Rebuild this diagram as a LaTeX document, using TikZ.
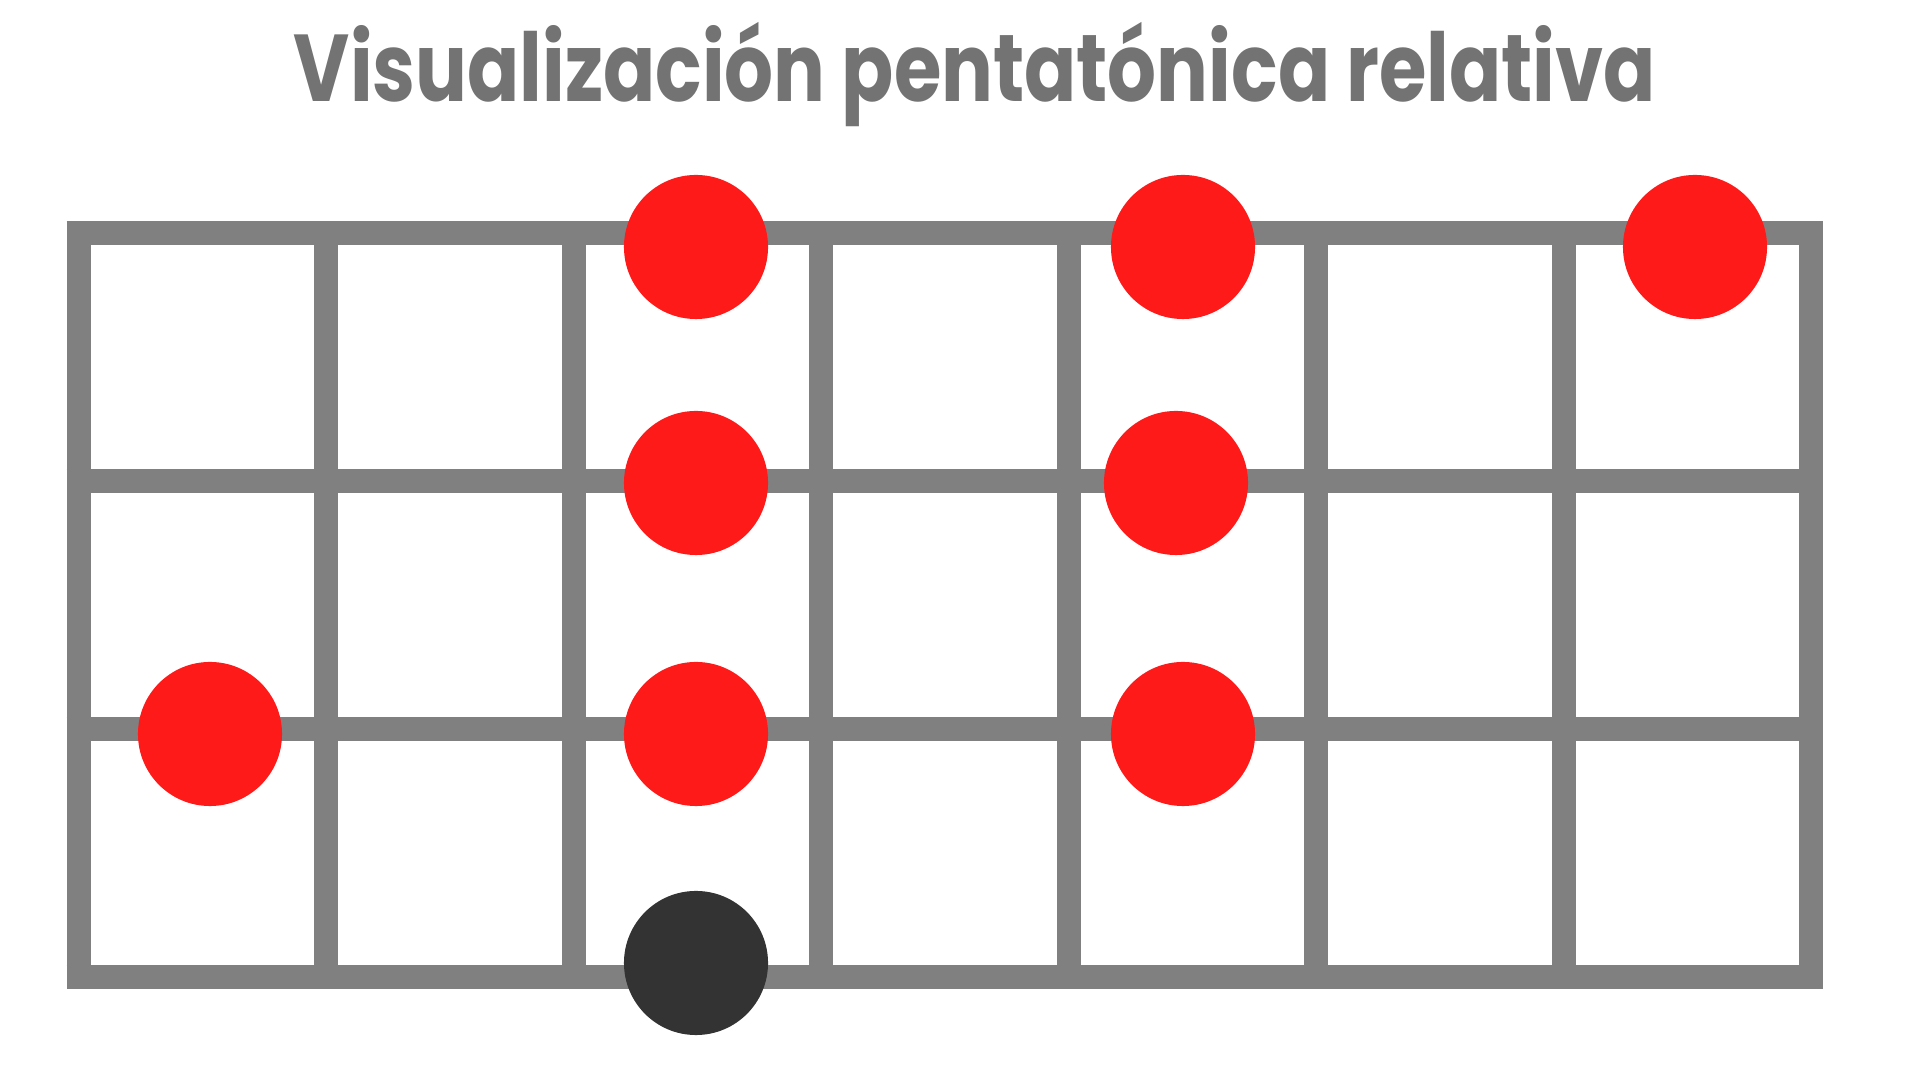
\documentclass[tikz,border=0pt]{standalone}
\usepackage{fontspec}
\setmainfont{Poppins}
\usepackage{tikz}

\definecolor{fretgray}{RGB}{128,128,128}
\definecolor{titlegray}{RGB}{115,115,115}
\definecolor{notered}{RGB}{255,26,26}
\definecolor{rootblack}{RGB}{51,51,51}

\begin{document}
\begin{tikzpicture}[x=0.01cm,y=-0.01cm]
	\tikzset{note/.style={circle,fill=notered,minimum size=1.44cm,inner sep=0pt},
		root/.style={note,fill=rootblack},
		fret/.style={draw=fretgray,line width=0.24cm}}
	\useasboundingbox (0,0) rectangle (1920,1080);
	\node[font=\bfseries\fontsize{27}{30}\selectfont,text=titlegray,anchor=base] (title) at (975,102) {\scalebox{0.81}[1]{Visualización pentatónica relativa}};

	%% fretboard
	\foreach \i in {0,...,7}
		\draw[fret] (78.7+247.5*\i,221) -- (78.7+247.5*\i,989);
	\foreach \j in {0,...,3}
		\draw[fret] (66.7,233+248*\j) -- (1823,233+248*\j);

	%% notes
	\node[note] (n1) at (696,247) {};
	\node[note] (n2) at (1183,247) {};
	\node[note] (n3) at (1695,247) {};
	\node[note] (n4) at (696,483) {};
	\node[note] (n5) at (1176,483) {};
	\node[note] (n6) at (210,734) {};
	\node[note] (n7) at (696,734) {};
	\node[note] (n8) at (1183,734) {};
	\node[root] (r1) at (696,963) {};
\end{tikzpicture}
\end{document}
